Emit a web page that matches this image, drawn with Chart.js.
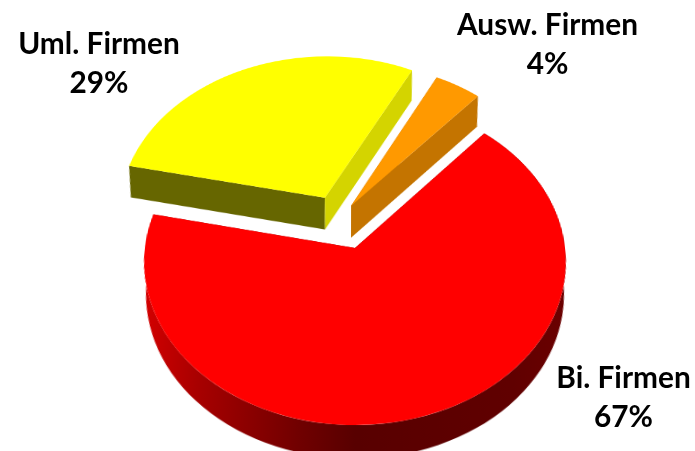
<!DOCTYPE html>
<html>
<head>
<meta charset="utf-8">
<title>Firmen</title>
<style>
    html, body { margin: 0; width: 695px; height: 451px; overflow: hidden; background: #fff; }
    #wrap { position: relative; width: 695px; height: 451px; overflow: hidden; }
    /* tilt the flat pie back, the centre of the canvas sits on the pie's apex */
    #pie { position: absolute; left: -95px; top: -202px; transform: perspective(1550px) rotateX(39.6deg); }
    .label { position: absolute; width: 240px; text-align: center; font: bold 29.8px/39px Lato, sans-serif; color: #000; transform: translateX(-50%); }
    #label0 { left: 623.5px; top: 357px; }
    #label1 { left: 99px; top: 23px; }
    #label2 { left: 547.5px; top: 4px; }
</style>
</head>
<body>
<div id="wrap">
    <canvas id="pie" width="900" height="900"></canvas>
</div>
<script src="https://cdn.jsdelivr.net/npm/chart.js@4"></script>
<script>
const categories = ['Bi. Firmen', 'Uml. Firmen', 'Ausw. Firmen'];
const shares = [67, 29, 4];

const topColors = ['#ff0000', '#ffff00', '#ff9900'];
const startWallColors = ['#800000', '#666600', '#c47400'];
const endWallColors = ['#800000', '#d4d400', '#c47400'];

// How far each slice is pulled out of the pie, in flat canvas pixels
const pullX = [0, -31, -4];
const pullY = [0, -67, -56];
const depth = 41;
const bottomScale = 0.975; // bottom face is further away, so a bit smaller

// Put the pulled slices in place once the library has laid them out
const explodePlugin = {
    id: 'explode',
    afterDatasetsUpdate(chart) {
        chart.getDatasetMeta(0).data.forEach((arc, i) => {
            arc.x += pullX[i];
            arc.y += pullY[i];
        });
    }
};

// Side walls are drawn under the top faces, from the arcs of the library
const wallsPlugin = {
    id: 'walls',
    beforeDatasetsDraw(chart) {
        const ctx = chart.ctx;
        const cx = chart.width / 2;
        const cy = chart.height / 2;
        const lowX = (px) => cx + (px - cx) * bottomScale;
        const lowY = (py) => cy + (py - cy) * bottomScale + depth;

        chart.getDatasetMeta(0).data.forEach((arc, i) => {
            const { x, y, startAngle, endAngle, outerRadius } = arc.getProps(['x', 'y', 'startAngle', 'endAngle', 'outerRadius']);

            // radial sides
            [[startAngle, startWallColors[i]], [endAngle, endWallColors[i]]].forEach(([angle, color]) => {
                const ex = x + Math.cos(angle) * outerRadius;
                const ey = y + Math.sin(angle) * outerRadius;
                ctx.beginPath();
                ctx.moveTo(x, y);
                ctx.lineTo(ex, ey);
                ctx.lineTo(lowX(ex), lowY(ey));
                ctx.lineTo(lowX(x), lowY(y));
                ctx.closePath();
                ctx.fillStyle = color;
                ctx.fill();
            });

            // only the big slice shows its rim
            if (i === 0) {
                const rim = ctx.createLinearGradient(x - outerRadius, 0, x + outerRadius, 0);
                rim.addColorStop(0, '#d80000');
                rim.addColorStop(0.15, '#a80000');
                rim.addColorStop(0.38, '#700000');
                rim.addColorStop(0.5, '#580000');
                rim.addColorStop(0.85, '#600000');
                rim.addColorStop(1, '#6c0000');
                ctx.beginPath();
                ctx.arc(x, y, outerRadius, startAngle, endAngle);
                ctx.arc(lowX(x), lowY(y), outerRadius * bottomScale, endAngle, startAngle, true);
                ctx.closePath();
                ctx.fillStyle = rim;
                ctx.fill();
            }
        });
    }
};

const pieChart = new Chart(document.getElementById('pie').getContext('2d'), {
    type: 'pie',
    data: {
        labels: categories,
        datasets: [{
            data: shares,
            backgroundColor: topColors,
            borderWidth: 0
        }]
    },
    options: {
        responsive: false,
        animation: false,
        rotation: 41,
        radius: 210,
        plugins: {
            legend: { display: false },
            tooltip: { enabled: false }
        }
    },
    plugins: [explodePlugin, wallsPlugin]
});

// Labels stay out of the tilted canvas so the text is not distorted
categories.forEach((name, i) => {
    const label = document.createElement('div');
    label.className = 'label';
    label.id = 'label' + i;
    label.innerHTML = `${name}<br>${shares[i]}%`;
    document.getElementById('wrap').appendChild(label);
});
</script>
</body>
</html>
